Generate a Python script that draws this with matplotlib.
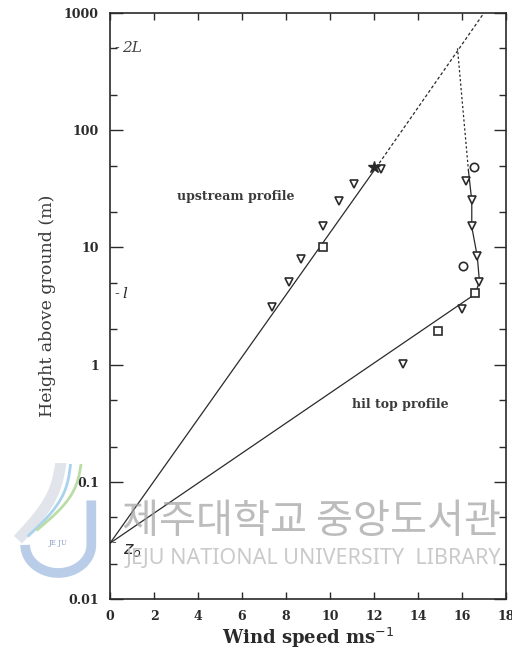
import matplotlib
matplotlib.use("Agg")
import matplotlib.pyplot as plt
import numpy as np

up_tri_u = [7.36, 8.14, 8.7, 9.7, 10.4, 11.1, 12.3]
up_tri_z = [3.1, 5.1, 8.0, 15.1, 25.0, 35.0, 47.0]
up_sq_u = [9.7]
up_sq_z = [10.0]
up_star_u = [12.0]
up_star_z = [49.0]

hill_tri_u = [13.3, 16.0, 16.8, 16.7, 16.45, 16.45, 16.2]
hill_tri_z = [1.02, 3.0, 5.1, 8.4, 15.1, 25.3, 36.7]
hill_sq_u = [14.9, 16.6]
hill_sq_z = [1.95, 4.05]
hill_circ_u = [16.05, 16.55]
hill_circ_z = [6.9, 49.0]

# fitted profiles
up_line_u = [0, 12.1]
up_line_z = [0.03, 48]
up_dash_u = [12.1, 17.0]
up_dash_z = [48, 1000]
hill_line_u = [0, 16.6, 16.8, 16.7, 16.45, 16.45, 16.3]
hill_line_z = [0.03, 4.0, 5.1, 8.4, 15, 25, 45]
hill_dash_u = [16.3, 15.8]
hill_dash_z = [45, 500]

xticks = [0, 2, 4, 6, 8, 10, 12, 14, 16, 18]
yticks = [0.01, 0.1, 1, 10, 100, 1000]
ylabels = ["0.01", "0.1", "1", "10", "100", "1000"]

ink = "#2a2a2a"
serif = "DejaVu Serif"

fig = plt.figure(figsize=(5.12, 6.54), dpi=100)
ax = fig.add_axes([0.215, 0.084, 0.773, 0.896])
ax.set_yscale("log")
ax.set_xlim(0, 18)
ax.set_ylim(0.01, 1000)

ax.plot(up_line_u, up_line_z, color=ink, lw=0.9)
ax.plot(up_dash_u, up_dash_z, color=ink, lw=0.9, ls=(0, (2.5, 1.8)))
ax.plot(hill_line_u, hill_line_z, color=ink, lw=0.9)
ax.plot(hill_dash_u, hill_dash_z, color=ink, lw=0.9, ls=(0, (1.8, 1.8)))

mk = dict(ls="none", mec=ink, mfc="white", mew=1.2)
ax.plot(up_tri_u, up_tri_z, marker="v", ms=6, **mk)
ax.plot(hill_tri_u, hill_tri_z, marker="v", ms=6, **mk)
ax.plot(up_sq_u, up_sq_z, marker="s", ms=5.5, **mk)
ax.plot(hill_sq_u, hill_sq_z, marker="s", ms=5.5, **mk)
ax.plot(hill_circ_u, hill_circ_z, marker="o", ms=6, **mk)
ax.plot(up_star_u, up_star_z, marker="*", ms=9, ls="none", color=ink)

ax.text(5.7, 27, "upstream profile", fontsize=9, family=serif,
        fontweight="bold", ha="center", va="center", color="#3a3a3a")
ax.text(13.2, 0.46, "hil top profile", fontsize=9, family=serif,
        fontweight="bold", ha="center", va="center", color="#3a3a3a")

ax.text(0.2, 500, "-", fontsize=10, family=serif, va="center", color=ink)
ax.text(0.55, 500, "2L", fontsize=11, family=serif, style="italic",
        va="center", color="#444444")
ax.text(0.2, 4.0, "-", fontsize=10, family=serif, va="center", color=ink)
ax.text(0.55, 4.0, "l", fontsize=11, family=serif, style="italic",
        va="center", color=ink)
ax.text(0.05, 0.03, "-", fontsize=10, family=serif, va="center", color=ink)
ax.text(0.6, 0.026, "$z_o$", fontsize=13, va="center", color=ink)

ax.set_xticks(xticks)
ax.set_xticklabels([str(t) for t in xticks], family=serif,
                   fontweight="bold", fontsize=9)
ax.set_yticks(yticks)
ax.set_yticklabels(ylabels, family=serif, fontweight="bold", fontsize=9)
ax.yaxis.set_minor_locator(matplotlib.ticker.LogLocator(base=10, subs=(2, 5)))
ax.yaxis.set_minor_formatter(matplotlib.ticker.NullFormatter())

ax.tick_params(axis="x", which="major", direction="in", top=True,
               length=5, width=1, pad=8, colors=ink)
ax.tick_params(axis="y", which="major", direction="in", right=True,
               length=9, width=1, pad=8, colors=ink)
ax.tick_params(axis="y", which="minor", direction="in", right=True,
               length=5, width=1, colors=ink)
for s in ax.spines.values():
    s.set_color(ink)
    s.set_linewidth(1.2)

ax.set_ylabel("Height above ground (m)", family=serif, fontsize=12.5,
              color="#3a3a3a", labelpad=6)
ax.set_xlabel("Wind speed ms$^{-1}$", family=serif, fontweight="bold",
              fontsize=13, color=ink, labelpad=2)

# library watermark
fig.text(311 / 512, 1 - 521 / 654, "제주대학교 중앙도서관",
         family=["Noto Sans CJK KR", "DejaVu Sans"], fontsize=29,
         color="#a0a0a0", alpha=0.7, ha="center", va="center")
fig.text(314 / 512, 1 - 559 / 654, "JEJU NATIONAL UNIVERSITY  LIBRARY",
         family="Noto Sans", fontsize=15.5, color="#bdbdbd", alpha=0.8,
         ha="center", va="center")

logo = fig.add_axes([13 / 512, 1 - 580 / 654, 87 / 512, 117 / 654])
logo.set_xlim(0, 1)
logo.set_ylim(0, 1)
logo.axis("off")
t = np.linspace(0, np.pi, 60)
jx = np.concatenate([[0.9, 0.9], 0.52 + 0.38 * np.cos(t)])
jy = np.concatenate([[0.68, 0.3], 0.3 - 0.24 * np.sin(t)])
logo.plot(jx, jy, color="#b9cce8", lw=7, solid_capstyle="butt")
s = np.linspace(0, 1, 60)
logo.plot(0.55 - 0.45 * s + 0.1 * np.sin(np.pi * s), 1.0 - 0.62 * s,
          color="#e1e4ea", lw=8)
logo.plot(0.66 - 0.48 * s + 0.12 * np.sin(np.pi * s), 0.98 - 0.6 * s,
          color="#a8d2ee", lw=2)
logo.plot(0.78 - 0.5 * s + 0.12 * np.sin(np.pi * s), 0.98 - 0.55 * s,
          color="#bcdca6", lw=2)
logo.text(0.52, 0.3, "JE JU", fontsize=5, color="#8aa0c8", ha="center",
          family=serif)

fig.savefig("out.png", dpi=100)
